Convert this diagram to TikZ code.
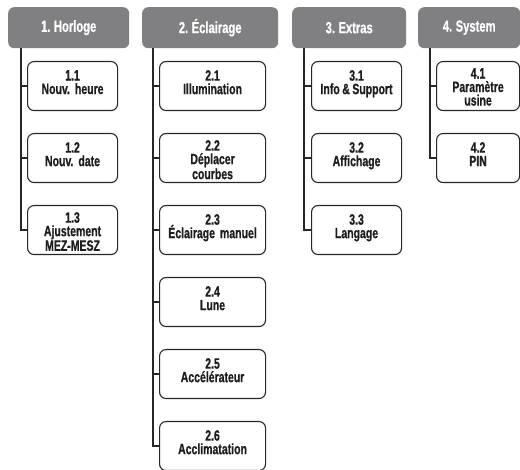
\documentclass[tikz,border=0pt]{standalone}
\usepackage{fontspec}
\newfontfamily\dinfont[FakeStretch=0.7, WordSpace=0.5, FakeBold=0.6]{Liberation Sans}
\newfontfamily\hdrfont[FakeStretch=0.7, WordSpace=0.8, FakeBold=0.6]{Liberation Sans}
\definecolor{hdrgray}{RGB}{128,128,130}
\definecolor{boxline}{RGB}{40,38,40}
\definecolor{txtcol}{RGB}{30,28,30}
\tikzset{
  hdr/.style={fill=hdrgray, draw=none, rounded corners=6pt, anchor=north west,
    text=white, font=\hdrfont\bfseries\fontsize{16}{16}\selectfont, inner sep=0pt},
  menubox/.style={draw=boxline, line width=1.1pt, rounded corners=6.5pt, fill=white,
    anchor=north west, inner sep=0pt},
  lbl/.style={text width=110pt, align=center, inner sep=0pt, anchor=north,
    text=txtcol, font=\dinfont\bfseries\frenchspacing\fontsize{15}{13.5}\selectfont},
  link/.style={draw=boxline, line width=1.1pt}
}
% #1 name, #2 x, #3 top y, #4 width, #5 text offset, #6 text
\newcommand\menuitem[6]{%
  \node[menubox, minimum width=#4pt, minimum height=49pt] (#1) at (#2,-#3) {};
  \node[lbl] (#1t) at ([yshift=-#5pt]#1.north) {#6};
}
\begin{document}
\begin{tikzpicture}[x=1pt,y=1pt]
\useasboundingbox (0,0) rectangle (520,-470);
% headers
\node[hdr, minimum width=121pt, minimum height=41pt] (h1) at (8,-7) {1. Horloge};
\node[hdr, minimum width=136pt, minimum height=41pt] (h2) at (142,-7) {2. Éclairage};
\node[hdr, minimum width=114pt, minimum height=41pt] (h3) at (292,-7) {3. Extras};
\node[hdr, minimum width=102pt, minimum height=41pt] (h4) at (418,-7) {4. System};
\coordinate (t1) at ([xshift=13pt]h1.south west);
\coordinate (t2) at ([xshift=11pt]h2.south west);
\coordinate (t3) at ([xshift=12pt]h3.south west);
\coordinate (t4) at ([xshift=12pt]h4.south west);
% column 1
\menuitem{c11}{27}{61}{90}{9}{1.1\\Nouv. heure}
\menuitem{c12}{27}{133}{90}{9}{1.2\\Nouv. date}
\menuitem{c13}{27}{205}{90}{7}{1.3\\Ajustement\\MEZ-MESZ}
% column 2
\menuitem{c21}{159}{61}{106}{9}{2.1\\Illumination}
\menuitem{c22}{159}{133}{106}{7}{2.2\\Déplacer\\courbes}
\menuitem{c23}{159}{205}{106}{9}{2.3\\Éclairage manuel}
\menuitem{c24}{159}{277}{106}{9}{2.4\\Lune}
\menuitem{c25}{159}{349}{106}{9}{2.5\\Accélérateur}
\menuitem{c26}{159}{421}{106}{9}{2.6\\Acclimatation}
% column 3
\menuitem{c31}{311}{61}{90}{9}{3.1\\Info\hspace{2.5pt}\&\hspace{2.5pt}Support}
\menuitem{c32}{311}{133}{90}{9}{3.2\\Affichage}
\menuitem{c33}{311}{205}{90}{9}{3.3\\Langage}
% column 4
\menuitem{c41}{436}{61}{83}{7}{4.1\\Paramètre\\usine}
\menuitem{c42}{436}{133}{83}{9}{4.2\\PIN}
% connectors
\draw[link] (t1) |- (c13.west);
\draw[link] (c11.west) -- (c11.west -| t1);
\draw[link] (c12.west) -- (c12.west -| t1);
\draw[link] (t2) |- (c26.west);
\foreach \n in {c21,c22,c23,c24,c25} \draw[link] (\n.west) -- (\n.west -| t2);
\draw[link] (t3) |- (c33.west);
\foreach \n in {c31,c32} \draw[link] (\n.west) -- (\n.west -| t3);
\draw[link] (t4) |- (c42.west);
\draw[link] (c41.west) -- (c41.west -| t4);
\end{tikzpicture}
\end{document}
